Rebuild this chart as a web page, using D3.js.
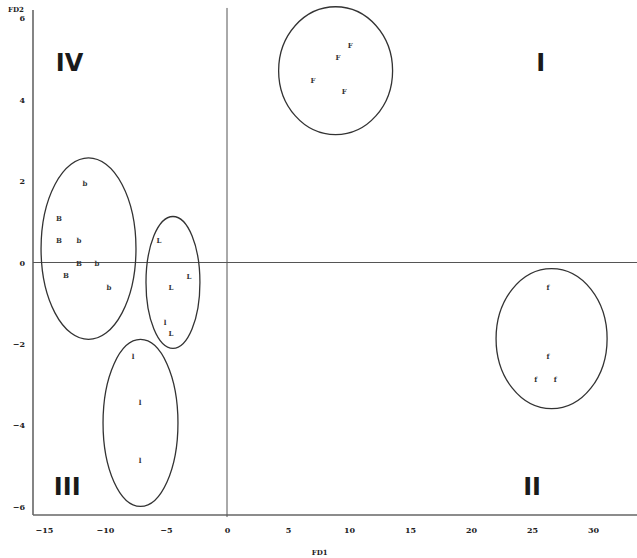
<!DOCTYPE html>
<html><head><meta charset="utf-8">
<script src="https://cdn.jsdelivr.net/npm/d3@7"></script>
<style>body{margin:0;background:#fff}svg{display:block}</style>
</head><body>
<script>
// Data
const groups = ["F", "f", "b", "L", "l"];
const pointLabels = ["F","F","F","F","f","f","f","f","b","B","B","b","B","b","B","b","L","L","L","l","L","l","l","l"];
const pointX = [10.1, 9.1, 7.05, 9.6, 26.3, 26.3, 25.3, 26.9, -11.64, -13.77, -13.77, -12.13, -12.13, -10.66, -13.2, -9.67, -5.57, -3.11, -4.59, -5.08, -4.59, -7.7, -7.13, -7.13];
const pointY = [5.33, 5.03, 4.47, 4.2, -0.61, -2.31, -2.87, -2.87, 1.94, 1.08, 0.54, 0.54, -0.02, -0.02, -0.32, -0.61, 0.54, -0.34, -0.61, -1.47, -1.74, -2.31, -3.44, -4.86];
const ellipseCx = [8.9, 26.6, -11.35, -4.43, -7.09];
const ellipseCy = [4.71, -1.87, 0.34, -0.49, -3.94];
const ellipseRx = [4.67, 4.55, 3.89, 2.21, 3.07];
const ellipseRy = [1.57, 1.72, 2.23, 1.62, 2.05];
const quadrantLabels = ["I", "II", "III", "IV"];
const quadrantX = [25.7, 25.0, -13.1, -12.9];
const quadrantY = [4.9, -5.5, -5.5, 4.9];
const xTicks = [-15, -10, -5, 0, 5, 10, 15, 20, 25, 30];
const yTicks = [-6, -4, -2, 0, 2, 4, 6];

const W = 637, H = 558;
const svg = d3.select("body").append("svg").attr("width", W).attr("height", H);
const x = d3.scaleLinear().domain([-15.9, 33.6]).range([33, 637]);
const y = d3.scaleLinear().domain([-6.2, 6.2]).range([515, 10]);

const font = "'DejaVu Serif', serif";
const axisColor = "#666";

// axes
const xa = svg.append("g").attr("transform", `translate(0,${y(-6.2)})`)
  .call(d3.axisBottom(x).tickValues(xTicks).tickSize(0).tickPadding(12).tickFormat(d3.format("d")));
xa.select(".domain").remove();
xa.selectAll("text").attr("font-family", font).attr("font-weight", "bold").attr("font-size", 8).attr("fill", "#222");

const ya = svg.append("g").attr("transform", `translate(${x(-15.9)},0)`)
  .call(d3.axisLeft(y).tickValues(yTicks).tickSize(0).tickPadding(8).tickFormat(d3.format("d")));
ya.select(".domain").remove();
ya.selectAll("text").attr("font-family", font).attr("font-weight", "bold").attr("font-size", 8).attr("fill", "#222");

// frame lines
svg.append("line").attr("x1", x(-15.9)).attr("x2", x(-15.9)).attr("y1", y(6.2)).attr("y2", y(-6.2))
  .attr("stroke", axisColor).attr("stroke-width", 1.6);
svg.append("line").attr("x1", x(-15.9)).attr("x2", W).attr("y1", y(-6.2)).attr("y2", y(-6.2))
  .attr("stroke", axisColor).attr("stroke-width", 1.6);
// zero lines
svg.append("line").attr("x1", x(0)).attr("x2", x(0)).attr("y1", y(6.25)).attr("y2", y(-6.25))
  .attr("stroke", "#555").attr("stroke-width", 1);
svg.append("line").attr("x1", x(-15.9)).attr("x2", W).attr("y1", y(0)).attr("y2", y(0))
  .attr("stroke", "#555").attr("stroke-width", 1);

// axis titles
svg.append("text").attr("x", 16).attr("y", 12).attr("text-anchor", "middle")
  .attr("font-family", font).attr("font-weight", "bold").attr("font-size", 7).attr("fill", "#222").text("FD2");
svg.append("text").attr("x", x(7.6)).attr("y", 555).attr("text-anchor", "middle")
  .attr("font-family", font).attr("font-weight", "bold").attr("font-size", 7).attr("fill", "#222").text("FD1");

// ellipses
svg.selectAll("ellipse.g").data(groups).enter().append("ellipse")
  .attr("cx", (d, i) => x(ellipseCx[i]))
  .attr("cy", (d, i) => y(ellipseCy[i]))
  .attr("rx", (d, i) => x(ellipseRx[i]) - x(0))
  .attr("ry", (d, i) => y(0) - y(ellipseRy[i]))
  .attr("fill", "none").attr("stroke", "#333").attr("stroke-width", 1.3);

// points
svg.selectAll("text.pt").data(pointLabels).enter().append("text")
  .attr("x", (d, i) => x(pointX[i]))
  .attr("y", (d, i) => y(pointY[i]))
  .attr("dy", "0.35em").attr("text-anchor", "middle")
  .attr("font-family", font).attr("font-weight", "bold").attr("font-size", 7).attr("fill", "#333")
  .text(d => d);

// quadrant labels
svg.selectAll("text.q").data(quadrantLabels).enter().append("text")
  .attr("x", (d, i) => x(quadrantX[i]))
  .attr("y", (d, i) => y(quadrantY[i]))
  .attr("dy", "0.35em").attr("text-anchor", "middle")
  .attr("font-family", "'DejaVu Sans', sans-serif").attr("font-weight", "bold").attr("font-size", 24).attr("fill", "#1a1a1a")
  .text(d => d);
</script>
</body></html>
